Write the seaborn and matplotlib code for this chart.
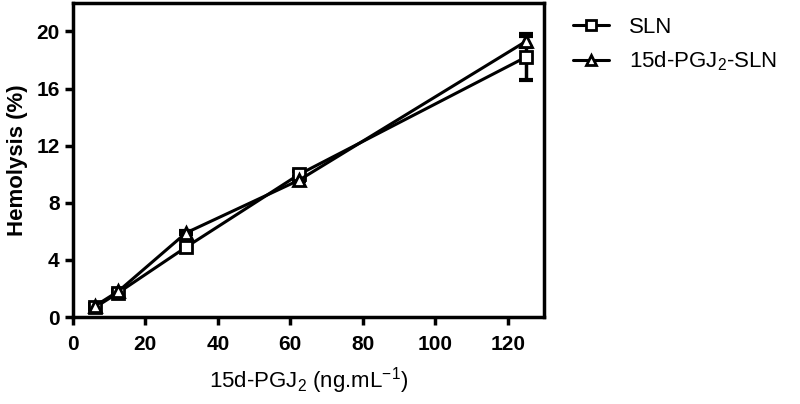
import numpy as np
import pandas as pd
import seaborn as sns
import matplotlib.pyplot as plt

conc = [6.25, 12.5, 31.25, 62.5, 125]
sln = [0.7, 1.7, 4.9, 10.0, 18.2]
sln_err = [0.1, 0.1, 0.1, 0.2, 1.6]
pgj_sln = [0.8, 1.8, 5.9, 9.6, 19.3]
pgj_err = [0.1, 0.1, 0.1, 0.1, 0.4]
labels = ["SLN", "15d-PGJ$_2$-SLN"]

df = pd.DataFrame({
    "conc": conc * 2,
    "hemolysis": sln + pgj_sln,
    "group": [labels[0]] * 5 + [labels[1]] * 5,
})

sns.set_style("ticks")
plt.rcParams["font.family"] = ["Liberation Sans", "DejaVu Sans"]
plt.rcParams["mathtext.fontset"] = "custom"
plt.rcParams["mathtext.rm"] = "Liberation Sans"
plt.rcParams["mathtext.it"] = "Liberation Sans:italic"
plt.rcParams["mathtext.bf"] = "Liberation Sans:bold"
plt.rcParams["text.color"] = "black"
plt.rcParams["axes.labelcolor"] = "black"

fig = plt.figure(figsize=(8, 4.04), dpi=100)
ax = fig.add_axes([0.091, 0.215, 0.589, 0.778])

for vals, err in [(sln, sln_err), (pgj_sln, pgj_err)]:
    ax.errorbar(conc, vals, yerr=err, fmt="none", ecolor="black",
                elinewidth=2.5, capsize=5, capthick=3, zorder=1)

sns.lineplot(data=df, x="conc", y="hemolysis", hue="group", style="group",
             markers={labels[0]: "s", labels[1]: "^"}, dashes=False,
             palette=["black", "black"], linewidth=2.2, markersize=9,
             markerfacecolor="white", markeredgecolor="black",
             markeredgewidth=2, ax=ax, zorder=3)

ax.set_xlim(0, 130)
ax.set_ylim(0, 22)
ax.set_xticks([0, 20, 40, 60, 80, 100, 120])
ax.set_yticks([0, 4, 8, 12, 16, 20])
for s in ax.spines.values():
    s.set_linewidth(2.5)
    s.set_color("black")
ax.tick_params(width=2.5, length=6, labelsize=15, colors="black")
ax.tick_params(axis="x", pad=7)
for t in ax.get_xticklabels() + ax.get_yticklabels():
    t.set_fontweight("bold")

ax.set_xlabel("15d-PGJ$_2$ (ng.mL$^{-1}$)", fontsize=16, labelpad=8)
ax.set_ylabel("Hemolysis (%)", fontsize=16, fontweight="bold", labelpad=6)

handles, _ = ax.get_legend_handles_labels()
ax.legend(handles, labels, loc="upper left", bbox_to_anchor=(1.02, 1.02),
          frameon=False, fontsize=16, handlelength=1.6, labelspacing=0.55,
          markerscale=0.75, handletextpad=0.9)

fig.savefig("out.png", dpi=100)
